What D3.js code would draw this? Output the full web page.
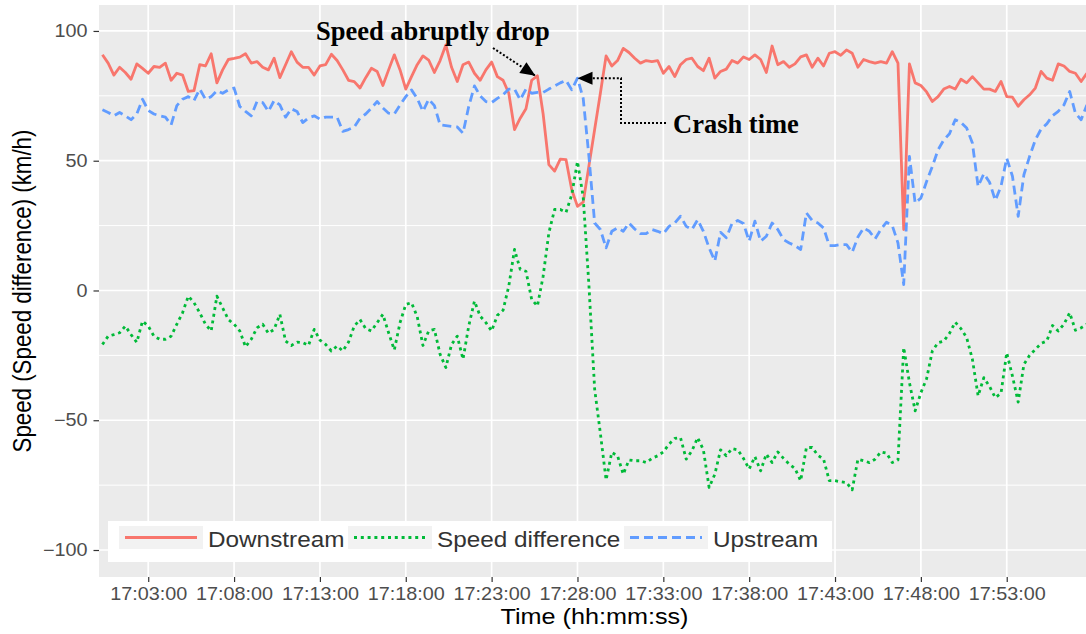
<!DOCTYPE html>
<html lang="en">
<head>
    <meta charset="UTF-8">
    <title>Speed around crash time</title>
    <script src="https://d3js.org/d3.v7.min.js"></script>
    <style>
        body { margin: 0; background: #fff; }
        svg { display: block; }
    </style>
</head>
<body>
    <svg width="1086" height="634"></svg>

    <script>
        // Sampling: one reading every 20 seconds starting at 17:00:20
        const startTime = "17:00:20";
        const stepSeconds = 20;

        // Speed series (km/h)
        const downstream = [
            90.8, 87.6, 83, 86, 84, 81.4, 87.3, 85.6, 83.7, 86.3,
            86, 87.6, 81, 83.7, 83, 76.7, 77, 87, 86.5, 91.2,
            80, 85, 89, 89.4, 89.9, 91.2, 87.6, 88.2, 86, 85,
            89.5, 82, 87, 92, 88, 86, 86, 83, 86.5, 87,
            91, 88.6, 85, 81, 80.5, 78, 82, 85.6, 84.4, 79,
            85, 90.8, 85, 77.6, 82.4, 87, 90.4, 88.8, 84, 88.6,
            94.6, 86, 80.5, 87, 88, 83.7, 81, 85, 88, 82.4,
            81, 76, 62, 66.4, 70, 81, 82.7, 68, 48.5, 46,
            50.6, 50.4, 38.8, 32.4, 34, 48, 62, 76, 90.4, 86.5,
            88.6, 93.3, 91.7, 89.5, 87.6, 88.6, 88.2, 88.6, 83.7, 86.3,
            82.4, 87, 89, 89.5, 86.3, 84.7, 89.5, 81.8, 84.4, 85.3,
            88.6, 87.6, 90, 89, 90.8, 89, 84, 94.2, 87, 88.2,
            86, 87.3, 90, 90.8, 86, 89.5, 86.5, 91.4, 92, 90.6,
            92.7, 91.4, 86, 89, 88.2, 87.6, 88.2, 87.6, 92, 87.6,
            23.5, 87.3, 80, 79, 76.5, 72.8, 74.7, 77.6, 78.6, 77.6,
            81.4, 80, 82.4, 80, 77.6, 77.6, 76.7, 80.5, 74.7, 74.5,
            71, 73.5, 75.4, 78, 84.4, 81.8, 81, 87.3, 86.5, 84.4,
            83.7, 80.5, 83.7
        ];

        const upstream = [
            69.6, 68.6, 67.3, 68.6, 67.3, 65.8, 68, 73.7, 69.4, 68,
            67.3, 66.8, 63.8, 71.2, 73.7, 74.7, 73.2, 77.6, 73.7, 74.7,
            77, 76, 77.3, 78, 70.9, 69, 67.3, 72.8, 72.4, 69,
            73.2, 71.5, 66.8, 70, 69, 64.7, 66.5, 67.3, 66, 66.8,
            66.8, 66.8, 61.3, 62, 63, 66.4, 68, 70.3, 72.8, 70.3,
            68.3, 68, 71.5, 74.7, 77.3, 74, 69, 73.7, 71.2, 63.8,
            63.5, 63.2, 63, 60.6, 70.9, 78.8, 75, 72.8, 72.4, 74,
            75.4, 77.6, 77.6, 73.5, 77.6, 76, 76.3, 76.3, 77.6, 78.8,
            80, 81, 77.3, 81.8, 74, 51.7, 26, 23.5, 16.4, 22.8,
            24.1, 22.8, 26, 23.7, 21.9, 21.9, 23.5, 22.8, 21.9, 24.7,
            26, 28.6, 24.7, 23.5, 27.3, 22.8, 16.4, 11.3, 22.4, 20.3,
            25.8, 27, 25.8, 19, 26.7, 19, 20.9, 26, 23.5, 19.6,
            18.3, 17.3, 15.8, 29.9, 27, 26, 24.1, 17.3, 17.3, 17.7,
            17.7, 14.7, 20.6, 24.1, 22.8, 19.9, 23.5, 26.3, 25, 18.3,
            2.3, 51.7, 33.7, 35.6, 42, 47.8, 54.2, 58, 60.4, 65.8,
            64.7, 62.6, 56.8, 40.1, 45, 41.7, 34.7, 40.1, 51, 44,
            28.6, 44.6, 51.7, 58, 62.2, 64.2, 67.3, 69, 71.5, 76.7,
            68.3, 65.8, 71.5
        ];

        const speedDiff = [
            -20.8, -17.6, -17, -16.3, -13.7, -17, -20, -11.8, -13.7, -17.6,
            -18.8, -18.8, -17.6, -13, -8.6, -2.2, -4.7, -8.6, -13, -15.6,
            -2.2, -6.7, -11.2, -13, -15.6, -21.7, -18.8, -14.4, -13, -16.5,
            -15, -9.2, -19.5, -21.2, -19.9, -20.1, -21.2, -15, -19.1, -20.8,
            -23.3, -21.4, -23.3, -19.9, -13.7, -11.2, -14.7, -15.6, -12.4, -9.2,
            -16.3, -22.9, -12.4, -5.4, -4.7, -10.1, -21.2, -15.6, -15, -24.6,
            -29.7, -20.8, -17.6, -26.5, -13.7, -4.1, -9.9, -12.4, -15.6, -9.6,
            -7.6, 1.7, 15.8, 8.1, 7.4, -3.5, -6, 5.5, 22.2, 31.2,
            31.2, 30.1, 36.9, 49.7, 36, 2, -38, -55, -73, -62.4,
            -63.7, -70.8, -65.3, -65.6, -65.6, -66.3, -64.7, -63.7, -62.2, -59.2,
            -57, -56.7, -65, -61.8, -56.7, -61.4, -75.9, -70.8, -61.4, -63.7,
            -60.9, -61.4, -64.7, -68.8, -64, -69.5, -63, -66.3, -62.2, -64.7,
            -66.9, -68.6, -73.3, -60.5, -60.5, -63.5, -65, -73.3, -73.3, -73.7,
            -74, -76.8, -65, -65.6, -66.3, -65, -62.2, -62.7, -66.3, -65.3,
            -22, -35.5, -46.4, -39.4, -34, -23.3, -20.1, -19.5, -16.5, -12.2,
            -14.7, -18.2, -26.5, -40.6, -33.6, -37, -41.3, -39.6, -24, -33,
            -43, -28.5, -25, -22.7, -20.4, -19.5, -13.5, -15.6, -13, -8.6,
            -15.3, -14.4, -13
        ];

        const yTicks = [100, 50, 0, -50, -100];
        const yMinorTicks = [75, 25, -25, -75];
        const xTickLabels = ["17:03:00", "17:08:00", "17:13:00", "17:18:00", "17:23:00",
                             "17:28:00", "17:33:00", "17:38:00", "17:43:00", "17:48:00", "17:53:00"];
        const seriesNames = ["Downstream", "Speed difference", "Upstream"];
        const seriesColors = ["#F8766D", "#00BA38", "#619CFF"];
        const seriesDash = [null, "3,3.8", "9,5"];

        // Annotation targets (index into the series)
        const dropIndex = 76;
        const crashIndex = 83;

        const parseTime = d3.timeParse("%H:%M:%S");
        const t0 = parseTime(startTime);
        const times = downstream.map((_, i) => d3.timeSecond.offset(t0, i * stepSeconds));

        const svg = d3.select("svg");
        const panel = { left: 99, right: 1086, top: 5, bottom: 577 };
        const sans = "'Liberation Sans', Arial, Helvetica, sans-serif";
        const serif = "'Liberation Serif', 'Times New Roman', serif";
        const stretchK = 1.12; // the ggplot output is a bit wider than tall

        // stretch text horizontally like the original bitmap
        function stretch(sel, k) {
            sel.each(function () {
                const w = this.getComputedTextLength();
                d3.select(this).attr("textLength", w * k).attr("lengthAdjust", "spacingAndGlyphs");
            });
        }

        const x = d3.scaleTime()
            .domain([parseTime("17:00:08"), parseTime("17:57:37")])
            .range([panel.left, panel.right]);
        const y = d3.scaleLinear().domain([-110.4, 110]).range([panel.bottom, panel.top]);

        // Panel background
        svg.append("rect")
            .attr("x", panel.left).attr("y", panel.top)
            .attr("width", panel.right - panel.left).attr("height", panel.bottom - panel.top)
            .attr("fill", "#EBEBEB");

        // Grid
        const grid = svg.append("g");
        grid.selectAll(".minor").data(yMinorTicks).join("line")
            .attr("x1", panel.left).attr("x2", panel.right)
            .attr("y1", d => y(d)).attr("y2", d => y(d))
            .attr("stroke", "#fff").attr("stroke-width", 1);
        grid.selectAll(".hmajor").data(yTicks).join("line")
            .attr("x1", panel.left).attr("x2", panel.right)
            .attr("y1", d => y(d)).attr("y2", d => y(d))
            .attr("stroke", "#fff").attr("stroke-width", 1.7);
        grid.selectAll(".vmajor").data(xTickLabels).join("line")
            .attr("x1", d => x(parseTime(d))).attr("x2", d => x(parseTime(d)))
            .attr("y1", panel.top).attr("y2", panel.bottom)
            .attr("stroke", "#fff").attr("stroke-width", 1.7);

        // Lines
        svg.append("clipPath").attr("id", "clip")
            .append("rect")
            .attr("x", panel.left).attr("y", panel.top)
            .attr("width", panel.right - panel.left).attr("height", panel.bottom - panel.top);

        const line = d3.line().x((d, i) => x(times[i])).y(d => y(d));
        const allSeries = [downstream, speedDiff, upstream];

        svg.append("g").attr("clip-path", "url(#clip)")
            .selectAll("path").data(allSeries).join("path")
            .attr("d", d => line(d))
            .attr("fill", "none")
            .attr("stroke", (d, i) => seriesColors[i])
            .attr("stroke-width", 2.8)
            .attr("stroke-linejoin", "round")
            .attr("stroke-dasharray", (d, i) => seriesDash[i]);

        // Axes
        const fmtY = d => d < 0 ? "\u2212" + Math.abs(d) : String(d);
        const yAxis = svg.append("g")
            .attr("transform", `translate(${panel.left},0)`)
            .call(d3.axisLeft(y).tickValues(yTicks).tickFormat(fmtY).tickSize(5.5).tickPadding(6));
        const xAxis = svg.append("g")
            .attr("transform", `translate(0,${panel.bottom})`)
            .call(d3.axisBottom(x).tickValues(xTickLabels.map(parseTime))
                .tickFormat(d3.timeFormat("%H:%M:%S")).tickSize(5).tickPadding(5));

        [yAxis, xAxis].forEach(ax => {
            ax.select(".domain").remove();
            ax.selectAll(".tick line").attr("stroke", "#333").attr("stroke-width", 1.2);
            ax.selectAll(".tick text")
                .attr("fill", "#4d4d4d")
                .style("font-family", sans)
                .style("font-size", "17.7px");
            stretch(ax.selectAll(".tick text"), stretchK);
        });

        // Axis titles
        const xTitle = svg.append("text")
            .attr("x", (panel.left + panel.right) / 2 + 2)
            .attr("y", 624)
            .attr("text-anchor", "middle")
            .style("font-family", sans).style("font-size", "22.5px")
            .attr("fill", "#000")
            .text("Time (hh:mm:ss)");
        stretch(xTitle, stretchK);

        svg.append("g")
            .attr("transform", `translate(31,291) scale(${stretchK},1) rotate(-90)`)
            .append("text")
            .attr("text-anchor", "middle")
            .style("font-family", sans).style("font-size", "22.3px")
            .attr("fill", "#000")
            .text("Speed (Speed difference) (km/h)");

        // Legend
        const legend = svg.append("g");
        legend.append("rect")
            .attr("x", 108).attr("y", 521).attr("width", 724).attr("height", 41)
            .attr("fill", "#fff");
        const keyX = [119, 348, 624];
        seriesNames.forEach((name, i) => {
            legend.append("rect")
                .attr("x", keyX[i]).attr("y", 526).attr("width", 84).attr("height", 23)
                .attr("fill", "#F2F2F2");
            legend.append("line")
                .attr("x1", keyX[i] + 6).attr("x2", keyX[i] + 78)
                .attr("y1", 537.5).attr("y2", 537.5)
                .attr("stroke", seriesColors[i]).attr("stroke-width", 2.8)
                .attr("stroke-dasharray", seriesDash[i]);
            const t = legend.append("text")
                .attr("x", keyX[i] + 89).attr("y", 546.5)
                .style("font-family", sans).style("font-size", "22.3px")
                .attr("fill", "#333")
                .text(name);
            stretch(t, 1.09);
        });

        // Annotations
        const ann = svg.append("g");
        function arrowHead(tip, from, len, half) {
            const dx = tip[0] - from[0], dy = tip[1] - from[1];
            const n = Math.hypot(dx, dy);
            const ux = dx / n, uy = dy / n;
            const bx = tip[0] - ux * len, by = tip[1] - uy * len;
            return [tip, [bx - uy * half, by + ux * half], [bx + uy * half, by - ux * half]];
        }

        const dropTip = [x(times[dropIndex]) - 2, y(downstream[dropIndex])];
        const dropFrom = [493, 48];
        ann.append("path")
            .attr("d", d3.line()([dropFrom, dropTip]))
            .attr("stroke", "#000").attr("stroke-width", 2).attr("stroke-dasharray", "2,2")
            .attr("fill", "none");
        ann.append("polygon")
            .attr("points", arrowHead(dropTip, dropFrom, 15, 6.5).join(" "))
            .attr("fill", "#000");
        ann.append("text")
            .attr("x", 316).attr("y", 40)
            .style("font-family", serif).style("font-size", "26.5px").style("font-weight", "bold")
            .text("Speed abruptly drop");

        const crashTip = [x(times[crashIndex]), y(upstream[crashIndex])];
        const elbowX = 621;
        ann.append("path")
            .attr("d", d3.line()([[666, 123], [elbowX, 123], [elbowX, crashTip[1]], [crashTip[0] + 10, crashTip[1]]]))
            .attr("stroke", "#000").attr("stroke-width", 2).attr("stroke-dasharray", "2,2")
            .attr("fill", "none");
        ann.append("polygon")
            .attr("points", arrowHead(crashTip, [elbowX, crashTip[1]], 15, 6.5).join(" "))
            .attr("fill", "#000");
        ann.append("text")
            .attr("x", 673).attr("y", 133)
            .style("font-family", serif).style("font-size", "26.5px").style("font-weight", "bold")
            .text("Crash time");
    </script>
</body>
</html>
